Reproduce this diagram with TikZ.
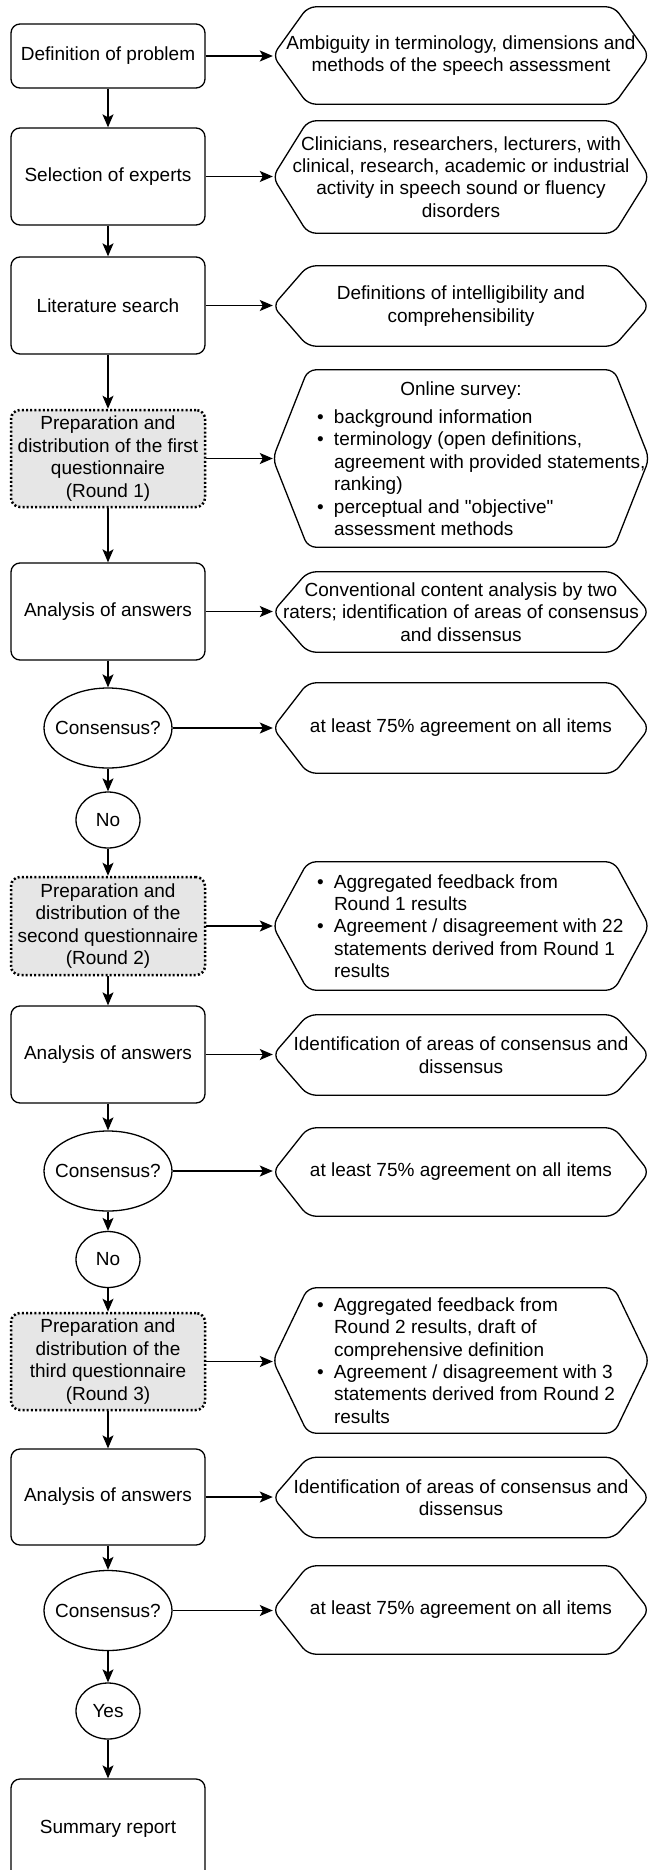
\documentclass[tikz,border=0pt]{standalone}
\usepackage{fontspec}
\setmainfont{Liberation Sans}
\usetikzlibrary{arrows.meta,shapes.geometric}
\definecolor{questgray}{HTML}{E6E6E6}
\def\hexframe(#1){\draw[hexline] (#1.west) -- ([xshift=35pt]#1.north west) -- ([xshift=-35pt]#1.north east) -- (#1.east) -- ([xshift=-35pt]#1.south east) -- ([xshift=35pt]#1.south west) -- cycle;}
\def\bitem{\makebox[17pt][l]{\textbullet}}
\def\bcont{\hspace*{17pt}}
\def\blist#1{\hspace*{42pt}\parbox{330pt}{\raggedright #1}}
\tikzset{
	txt/.style={font=\fontsize{19}{22.4}\selectfont, align=center},
	stepbox/.style={txt, draw, rounded corners=9pt, line width=1.3pt, minimum width=194pt, inner sep=0pt},
	questbox/.style={stepbox, fill=questgray, line width=2.5pt, dash pattern=on 2pt off 2.2pt},
	decision/.style={txt, draw, ellipse, line width=1.3pt, inner sep=0pt},
	hexbox/.style={txt, minimum width=376pt, inner sep=0pt},
	hexline/.style={line width=1.3pt, rounded corners=8pt},
	flow/.style={line width=1.3pt, -{Stealth[length=13pt, width=11pt, inset=3pt]}}
}

\begin{document}
\begin{tikzpicture}[x=1pt, y=-1pt]
			%%%%% START %%%%%
			\useasboundingbox (0,0) rectangle (651,1870);
			
			% left column
			\node[stepbox, minimum height=64pt] (def) at (108,56) {Definition of problem};
			\node[stepbox, minimum height=97pt] (sel) at (108,176.5) {Selection of experts};
			\node[stepbox, minimum height=97pt] (lit) at (108,305.5) {Literature search};
			\node[questbox, minimum height=97pt] (qa) at (108,458.5) {Preparation and\\distribution of the first\\questionnaire\\(Round 1)};
			\node[stepbox, minimum height=97pt] (ana1) at (108,611.5) {Analysis of answers};
			\node[decision, minimum width=128pt, minimum height=80pt] (con1) at (108,728) {\makebox[0pt]{Consensus?}};
			\node[decision, minimum width=64pt, minimum height=56pt] (no1) at (108,820) {No};
			
			\node[questbox, minimum height=98pt] (qb) at (108,926) {Preparation and\\distribution of the\\second questionnaire\\(Round 2)};
			\node[stepbox, minimum height=97pt] (ana2) at (108,1054.5) {Analysis of answers};
			\node[decision, minimum width=128pt, minimum height=80pt] (con2) at (108,1171) {\makebox[0pt]{Consensus?}};
			\node[decision, minimum width=64pt, minimum height=56pt] (no2) at (108,1259.5) {No};
			
			\node[questbox, minimum height=97pt] (qc) at (108,1361.5) {Preparation and\\distribution of the\\third questionnaire\\(Round 3)};
			\node[stepbox, minimum height=96pt] (ana3) at (108,1497) {Analysis of answers};
			\node[decision, minimum width=128pt, minimum height=80pt] (con3) at (108,1610.5) {\makebox[0pt]{Consensus?}};
			\node[decision, minimum width=64pt, minimum height=56pt] (yes) at (108,1711) {Yes};
			\node[stepbox, minimum height=100pt] (sum) at (108,1829) {Summary report};
			
			% right column
			\node[hexbox, minimum height=97pt] (h1) at (461,55.5) {Ambiguity in terminology, dimensions and\\methods of the speech assessment};
			\node[hexbox, minimum height=112pt] (h2) at (461,177) {Clinicians, researchers, lecturers, with\\clinical, research, academic or industrial\\activity in speech sound or fluency\\disorders};
			\node[hexbox, minimum height=80pt] (h3) at (461,306) {Definitions of intelligibility and\\comprehensibility};
			\node[hexbox, minimum height=177pt] (h4) at (461,458.5) {\blist{\makebox[288pt]{Online survey:}\\[6pt]
				\bitem background information\\
				\bitem terminology (open definitions,\\
				\bcont agreement with provided statements,\\
				\bcont ranking)\\
				\bitem perceptual and \textquotedbl objective\textquotedbl\\
				\bcont assessment methods}};
			\node[hexbox, minimum height=80pt] (h5) at (461,612) {Conventional content analysis by two\\raters; identification of areas of consensus\\and dissensus};
			\node[hexbox, minimum height=90pt] (h6) at (461,728) {at least 75\% agreement on all items};
			\node[hexbox, minimum height=128pt] (h7) at (461,926) {\blist{\bitem Aggregated feedback from\\
				\bcont Round 1 results\\
				\bitem Agreement / disagreement with 22\\
				\bcont statements derived from Round 1\\
				\bcont results}};
			\node[hexbox, minimum height=80pt] (h8) at (461,1055) {Identification of areas of consensus and\\dissensus};
			\node[hexbox, minimum height=88pt] (h9) at (461,1172) {at least 75\% agreement on all items};
			\node[hexbox, minimum height=145pt] (h10) at (461,1360.5) {\blist{\bitem Aggregated feedback from\\
				\bcont Round 2 results, draft of\\
				\bcont comprehensive definition\\
				\bitem Agreement / disagreement with 3\\
				\bcont statements derived from Round 2\\
				\bcont results}};
			\node[hexbox, minimum height=80pt] (h11) at (461,1497.5) {Identification of areas of consensus and\\dissensus};
			\node[hexbox, minimum height=88pt] (h12) at (461,1610) {at least 75\% agreement on all items};
			
			\hexframe(h1);
			\hexframe(h2);
			\hexframe(h3);
			\hexframe(h4);
			\hexframe(h5);
			\hexframe(h6);
			\hexframe(h7);
			\hexframe(h8);
			\hexframe(h9);
			\hexframe(h10);
			\hexframe(h11);
			\hexframe(h12);
			
			% down the column
			\draw[flow] (def) -- (sel);
			\draw[flow] (sel) -- (lit);
			\draw[flow] (lit) -- (qa);
			\draw[flow] (qa) -- (ana1);
			\draw[flow] (ana1) -- (con1);
			\draw[flow] (con1) -- (no1);
			\draw[flow] (no1) -- (qb);
			\draw[flow] (qb) -- (ana2);
			\draw[flow] (ana2) -- (con2);
			\draw[flow] (con2) -- (no2);
			\draw[flow] (no2) -- (qc);
			\draw[flow] (qc) -- (ana3);
			\draw[flow] (ana3) -- (con3);
			\draw[flow] (con3) -- (yes);
			\draw[flow] (yes) -- (sum);
			
			% across
			\draw[flow] (def.east) -- (def.east -| h1.west);
			\draw[flow] (sel.east) -- (sel.east -| h2.west);
			\draw[flow] (lit.east) -- (lit.east -| h3.west);
			\draw[flow] (qa.east) -- (qa.east -| h4.west);
			\draw[flow] (ana1.east) -- (ana1.east -| h5.west);
			\draw[flow] (con1.east) -- (con1.east -| h6.west);
			\draw[flow] (qb.east) -- (qb.east -| h7.west);
			\draw[flow] (ana2.east) -- (ana2.east -| h8.west);
			\draw[flow] (con2.east) -- (con2.east -| h9.west);
			\draw[flow] (qc.east) -- (qc.east -| h10.west);
			\draw[flow] (ana3.east) -- (ana3.east -| h11.west);
			\draw[flow] (con3.east) -- (con3.east -| h12.west);
			
			%%%%% END %%%%%
\end{tikzpicture}
\end{document}
